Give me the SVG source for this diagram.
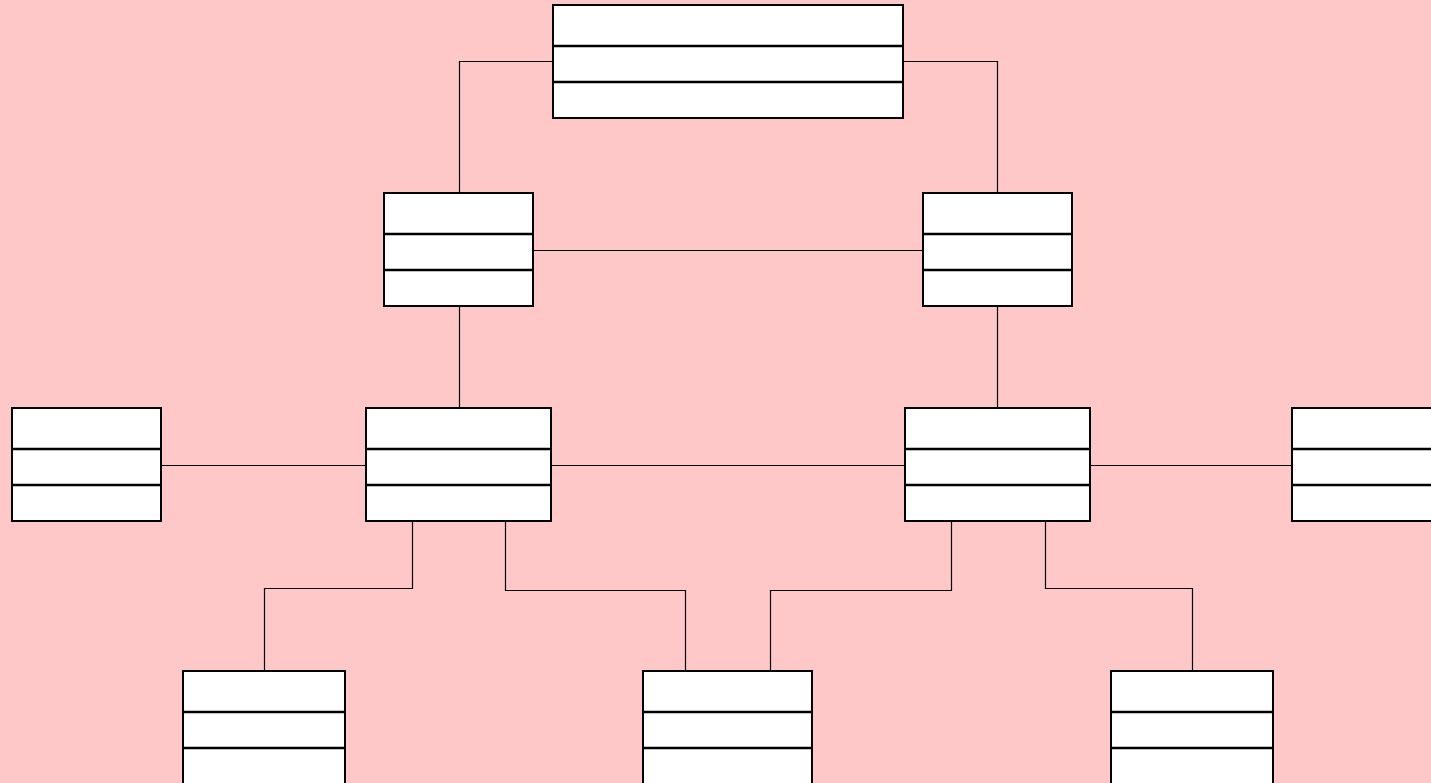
<svg xmlns="http://www.w3.org/2000/svg" width="1431" height="783" viewBox="0 0 1431 783">
<style>
.box{fill:#fff;stroke:#000;stroke-width:2}
.div{stroke:#000;stroke-width:2.5}
.con{fill:none;stroke:#000;stroke-width:1.2}
</style>
<defs>
<g id="cls">
</g>
</defs>
<rect width="1431" height="783" fill="#FFC8C8"/>
<g id="connectors">
<path class="con" d="M553,61.5H459.5V193"/>
<path class="con" d="M903,61.5H997.5V193"/>
<path class="con" d="M533,250.5H923"/>
<path class="con" d="M459.5,306V408"/>
<path class="con" d="M997.5,306V408"/>
<path class="con" d="M161,465.5H366"/>
<path class="con" d="M551,465.5H905"/>
<path class="con" d="M1090,465.5H1292"/>
<path class="con" d="M412.5,521V588.5H264.5V671"/>
<path class="con" d="M505.5,521V590.5H685.5V671"/>
<path class="con" d="M951.5,521V590.5H770.5V671"/>
<path class="con" d="M1045.5,521V588.5H1192.5V671"/>
</g>
<g id="n-top"><rect class="box" x="553" y="5" width="350" height="113"/><path class="div" d="M553,46H903M553,82H903"/></g>
<g id="n-ml"><rect class="box" x="384" y="193" width="149" height="113"/><path class="div" d="M384,234H533M384,270H533"/></g>
<g id="n-mr"><rect class="box" x="923" y="193" width="149" height="113"/><path class="div" d="M923,234H1072M923,270H1072"/></g>
<g id="n-r3a"><rect class="box" x="12" y="408" width="149" height="113"/><path class="div" d="M12,449H161M12,485H161"/></g>
<g id="n-r3b"><rect class="box" x="366" y="408" width="185" height="113"/><path class="div" d="M366,449H551M366,485H551"/></g>
<g id="n-r3c"><rect class="box" x="905" y="408" width="185" height="113"/><path class="div" d="M905,449H1090M905,485H1090"/></g>
<g id="n-r3d"><rect class="box" x="1292" y="408" width="160" height="113"/><path class="div" d="M1292,449H1452M1292,485H1452"/></g>
<g id="n-b1"><rect class="box" x="183" y="671" width="162" height="130"/><path class="div" d="M183,712H345M183,748H345"/></g>
<g id="n-b2"><rect class="box" x="643" y="671" width="169" height="130"/><path class="div" d="M643,712H812M643,748H812"/></g>
<g id="n-b3"><rect class="box" x="1111" y="671" width="162" height="130"/><path class="div" d="M1111,712H1273M1111,748H1273"/></g>
</svg>
